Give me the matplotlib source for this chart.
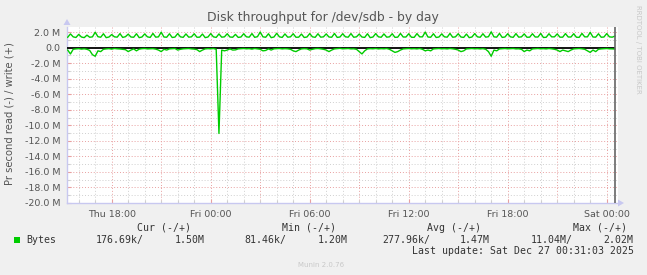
import matplotlib
matplotlib.use("Agg")
import matplotlib.pyplot as plt
import matplotlib.dates as mdates
from matplotlib.ticker import FuncFormatter, MultipleLocator
import numpy as np
import pandas as pd

# ---------------- data ----------------
start_time = "2025-12-25 15:20"
step = "10min"
n_points = 200

# write (+) bytes/s in millions
write_M = [
    1.35, 1.78, 1.40, 1.32, 1.72, 1.38, 1.30, 1.62, 1.35, 1.40, 2.00, 1.42,
    1.35, 1.80, 1.30, 1.38, 1.70, 1.40, 1.36, 1.82, 1.33, 1.42, 1.75, 1.38,
    1.35, 1.80, 1.30, 1.38, 1.78, 1.40, 1.33, 1.84, 1.36, 1.40, 2.00, 1.38,
    1.35, 1.80, 1.32, 1.37, 1.82, 1.40, 1.34, 1.78, 1.36, 1.40, 1.80, 1.35,
    1.36, 1.76, 1.30, 1.38, 1.82, 1.40, 1.33, 1.78, 1.36, 1.40, 1.80, 1.38,
    1.35, 1.72, 1.33, 1.38, 1.80, 1.40, 1.36, 1.82, 1.34, 1.42, 2.02, 1.40,
    1.35, 1.80, 1.30, 1.38, 1.86, 1.40, 1.33, 1.78, 1.36, 1.40, 1.80, 1.35,
    1.36, 1.76, 1.32, 1.38, 1.82, 1.40, 1.34, 1.80, 1.36, 1.40, 1.78, 1.38,
    1.35, 1.84, 1.33, 1.38, 1.80, 1.40, 1.36, 1.82, 1.35, 1.40, 1.76, 1.38,
    1.33, 1.80, 1.30, 1.38, 1.82, 1.40, 1.35, 1.78, 1.36, 1.40, 1.80, 1.34,
    1.36, 1.84, 1.38, 1.38, 1.80, 1.35, 1.34, 1.82, 1.40, 1.40, 2.02, 1.38,
    1.35, 1.80, 1.32, 1.38, 1.78, 1.40, 1.36, 1.84, 1.35, 1.40, 1.80, 1.38,
    1.33, 1.76, 1.30, 1.38, 1.82, 1.40, 1.35, 1.80, 1.36, 1.42, 2.05, 1.40,
    1.36, 1.84, 1.33, 1.38, 1.80, 1.40, 1.34, 1.82, 1.36, 1.40, 1.78, 1.35,
    1.36, 1.80, 1.38, 1.38, 1.84, 1.32, 1.35, 1.80, 1.40, 1.40, 1.78, 1.36,
    1.36, 1.82, 1.38, 1.38, 1.80, 1.35, 1.34, 1.84, 1.40, 1.40, 1.98, 1.38,
    1.36, 1.80, 1.35, 1.38, 1.82, 1.40, 1.36, 1.50,
]

# read (-) bytes/s in millions (drawn below zero)
read_M = [
    0.30, 0.80, 0.20, 0.15, 0.12, 0.18, 0.14, 0.20, 0.35, 0.90,
    1.10, 0.40, 0.50, 0.20, 0.15, 0.12, 0.18, 0.10, 0.14, 0.16,
    0.20, 0.25, 0.50, 0.30, 0.15, 0.40, 0.18, 0.12, 0.10, 0.15,
    0.14, 0.12, 0.18, 0.30, 0.50, 0.20, 0.30, 0.15, 0.12, 0.10,
    0.30, 0.20, 0.14, 0.12, 0.10, 0.15, 0.18, 0.25, 0.50, 0.30,
    0.15, 0.12, 0.14, 0.10, 0.20, 11.04, 0.30, 0.40, 0.30, 0.15,
    0.30, 0.28, 0.15, 0.12, 0.10, 0.14, 0.12, 0.18, 0.10, 0.15,
    0.20, 0.40, 0.35, 0.15, 0.30, 0.14, 0.12, 0.10, 0.15, 0.12,
    0.14, 0.20, 0.40, 0.50, 0.30, 0.15, 0.12, 0.14, 0.30, 0.20,
    0.12, 0.10, 0.14, 0.20, 0.30, 0.50, 0.30, 0.15, 0.12, 0.08,
    0.14, 0.12, 0.10, 0.15, 0.14, 0.20, 0.50, 0.80, 0.40, 0.15,
    0.12, 0.14, 0.10, 0.15, 0.12, 0.14, 0.10, 0.20, 0.40, 0.60,
    0.50, 0.30, 0.15, 0.12, 0.10, 0.14, 0.12, 0.15, 0.10, 0.20,
    0.40, 0.30, 0.40, 0.15, 0.12, 0.10, 0.14, 0.12, 0.15, 0.10,
    0.14, 0.20, 0.30, 0.50, 0.40, 0.15, 0.12, 0.10, 0.14, 0.12,
    0.15, 0.12, 0.20, 0.50, 1.10, 0.30, 0.40, 0.15, 0.12, 0.10,
    0.14, 0.12, 0.10, 0.15, 0.14, 0.20, 0.50, 0.30, 0.40, 0.15,
    0.12, 0.10, 0.14, 0.12, 0.15, 0.10, 0.14, 0.20, 0.30, 0.50,
    0.30, 0.40, 0.50, 0.30, 0.15, 0.12, 0.10, 0.14, 0.20, 0.40,
    0.60, 0.30, 0.50, 0.20, 0.15, 0.12, 0.10, 0.14, 0.15, 0.177,
]

last_update = "2025-12-27 00:30"

title = "Disk throughput for /dev/sdb - by day"
ylabel = "Pr second read (-) / write (+)"
legend_headers = ["Cur (-/+)", "Min (-/+)", "Avg (-/+)", "Max (-/+)"]
series_name = "Bytes"
legend_values = ["176.69k/", "1.50M", "81.46k/", "1.20M",
                 "277.96k/", "1.47M", "11.04M/", "2.02M"]
last_update_text = "Last update: Sat Dec 27 00:31:03 2025"
munin_text = "Munin 2.0.76"
rrd_text = "RRDTOOL / TOBI OETIKER"

# ---------------- figure ----------------
W, H = 647, 275
fig = plt.figure(figsize=(W / 100, H / 100), dpi=100, facecolor="#f0f0f0")

L, R, T, B = 67, 618, 27, 203
ax = fig.add_axes([L / W, 1 - B / H, (R - L) / W, (B - T) / H])
ax.set_facecolor("white")

times = pd.date_range(start_time, periods=n_points, freq=step)
w = np.array(write_M) * 1e6
r = -np.array(read_M) * 1e6

green = "#00cc00"
ax.plot(times, w, color=green, lw=1.0, zorder=4)
ax.plot(times, r, color=green, lw=1.0, zorder=4)

px_per_hour = 16.5
fri0 = pd.Timestamp("2025-12-26 00:00")
x_left = fri0 - pd.Timedelta(hours=(210.7 - L) / px_per_hour)
x_right = fri0 + pd.Timedelta(hours=(R - 210.7) / px_per_hour)
ax.set_xlim(x_left, x_right)
ax.set_ylim(-20e6, 2.67e6)

ax.hlines(0, x_left, pd.Timestamp(last_update), color="black", lw=1.3, zorder=3)
ax.axvline(pd.Timestamp(last_update), color="#666666", lw=1.2, zorder=5)

ax.xaxis.set_major_locator(mdates.HourLocator(byhour=range(0, 24, 6)))
ax.xaxis.set_major_formatter(mdates.DateFormatter("%a %H:%M"))
ax.xaxis.set_minor_locator(mdates.HourLocator())
ax.yaxis.set_major_locator(MultipleLocator(2e6))
ax.yaxis.set_minor_locator(MultipleLocator(1e6))

def yfmt(v, pos):
    if abs(v) < 1:
        return "0.0"
    return "%.1f M" % (v / 1e6)
ax.yaxis.set_major_formatter(FuncFormatter(yfmt))

dot = (0, (1, 2))
ax.grid(False)
for h in pd.date_range("2025-12-25 16:00", "2025-12-27 00:00", freq="1h"):
    if h.hour % 3 == 0:
        ax.axvline(h, color="#e8a0a0", lw=0.7, ls=dot, zorder=1)
    else:
        ax.axvline(h, color="#cfcfcf", lw=0.7, ls=dot, zorder=1)
for v in np.arange(-20e6, 2.5e6, 1e6):
    if abs(v) < 1:
        continue
    if int(round(v / 1e6)) % 2 == 0:
        ax.axhline(v, color="#e8a0a0", lw=0.7, ls=dot, zorder=1)
    else:
        ax.axhline(v, color="#cfcfcf", lw=0.7, ls=dot, zorder=1)

for s in ["top", "right"]:
    ax.spines[s].set_visible(False)
for s in ["left", "bottom"]:
    ax.spines[s].set_color("#c8c8f0")
    ax.spines[s].set_linewidth(1.0)

ax.tick_params(axis="both", which="major", labelsize=6.8, labelcolor="#555555",
               color="#e8a0a0", length=3, width=0.8, direction="in")
ax.tick_params(axis="both", which="minor", color="#cfcfcf", length=2,
               width=0.8, direction="in")
ax.tick_params(axis="x", pad=5)
ax.tick_params(axis="y", pad=5)

fig.patches.append(plt.Polygon(
    [[(L - 3.5) / W, 1 - 25 / H], [(L + 3.5) / W, 1 - 25 / H], [L / W, 1 - 19 / H]],
    closed=True, transform=fig.transFigure, facecolor="#c8c8f0", edgecolor="none"))
fig.patches.append(plt.Polygon(
    [[R / W, 1 - (B - 3.5) / H], [R / W, 1 - (B + 3.5) / H], [(R + 6) / W, 1 - B / H]],
    closed=True, transform=fig.transFigure, facecolor="#c8c8f0", edgecolor="none"))

def fx(px):
    return px / W

def fy(py):
    return 1 - py / H

fig.text(fx(323), fy(18), title, ha="center", va="center", fontsize=8.9,
         color="#555555")
fig.text(fx(10), fy(114), ylabel, ha="center", va="center", rotation=90,
         fontsize=7.2, color="#555555")
fig.text(fx(638), fy(5), rrd_text, ha="center", va="top", rotation=270,
         fontsize=5.0, color="#c8c8c8")

mono = "DejaVu Sans Mono"
fs = 7.1
tc = "#333333"
for xh, txt in zip([137, 282, 427, 573], legend_headers):
    fig.text(fx(xh), fy(228), txt, ha="left", va="center", family=mono,
             fontsize=fs, color=tc)
fig.patches.append(plt.Rectangle((fx(14), fy(242.5)), 5.5 / W, 5.5 / H,
                                 transform=fig.transFigure, facecolor=green,
                                 edgecolor="none"))
fig.text(fx(26), fy(240), series_name, ha="left", va="center", family=mono,
         fontsize=fs, color=tc)
for xv, txt in zip([96, 175, 244, 318, 382, 460, 531, 603], legend_values):
    fig.text(fx(xv), fy(240), txt, ha="left", va="center", family=mono,
             fontsize=fs, color=tc)
fig.text(fx(412), fy(251.5), last_update_text, ha="left", va="center",
         family=mono, fontsize=fs, color=tc)
fig.text(fx(321), fy(265), munin_text, ha="center", va="center",
         fontsize=5.0, color="#c8c8c8")

fig.savefig("out.png", dpi=100, facecolor=fig.get_facecolor())
